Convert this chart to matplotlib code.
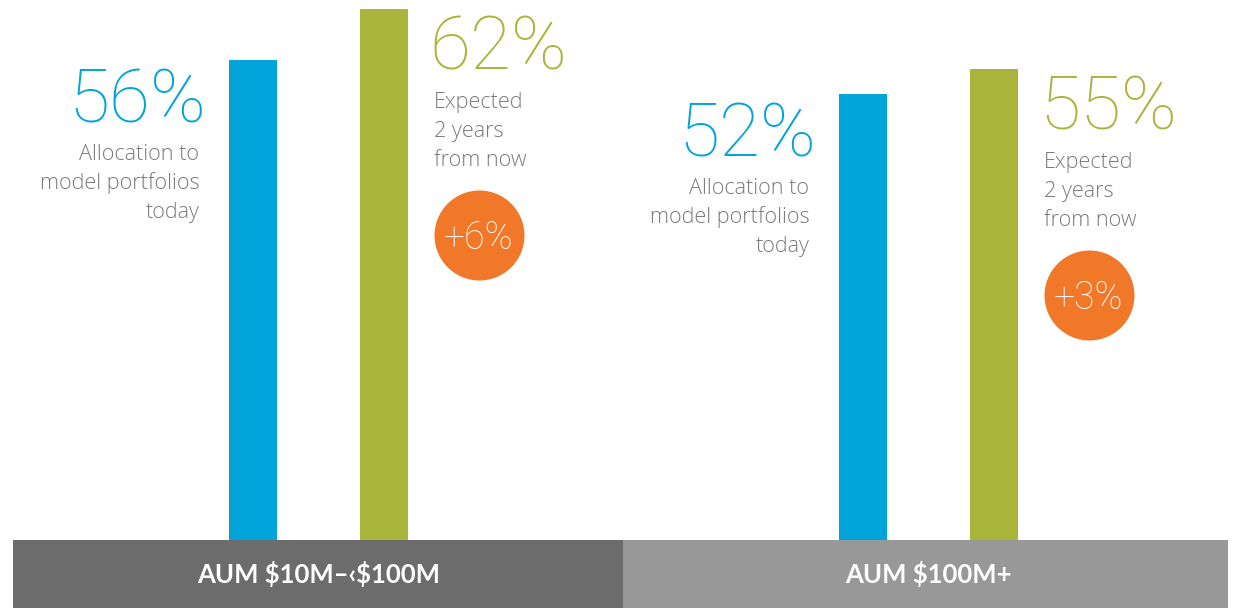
import matplotlib
matplotlib.use("Agg")
import matplotlib.pyplot as plt
from matplotlib.transforms import offset_copy

groups = ["AUM $10M–‹$100M", "AUM $100M+"]
today = [56, 52]
expected = [62, 55]
today_label = ["Allocation to", "model portfolios", "today"]
expected_label = ["Expected", "2 years", "from now"]

BLUE = "#00A4DA"
GREEN = "#A9B43A"
ORANGE = "#F07828"
DARK = "#6B6C6B"
LIGHT = "#979897"
TXT = "#7A7A7A"

W, H = 1234, 608
fig = plt.figure(figsize=(W / 100, H / 100), dpi=100)
band_h = 68
ax = fig.add_axes([0, band_h / H, 1, 1 - band_h / H])
bax = fig.add_axes([0, 0, 1, band_h / H], sharex=ax)

xlim = (-0.5221, 1.5008)
off = 0.1066
bw = 0.0787
ax.set_xlim(*xlim)
ax.set_ylim(0, 540 / 8.57)
ax.axis("off")

NUMFONT = dict(family=["Roboto", "DejaVu Sans"], weight=250)
LBLFONT = dict(family=["Open Sans", "DejaVu Sans"], weight=300)

for i, (t, e) in enumerate(zip(today, expected)):
    xb = i - off
    xg = i + off
    ax.bar(xb, t, width=bw, color=BLUE, linewidth=0)
    ax.bar(xg, e, width=bw, color=GREEN, linewidth=0)
    left_edge = xb - bw / 2
    right_edge = xg + bw / 2
    # big numbers
    ax.annotate(f"{t}%", xy=(left_edge, t), xytext=(-23, -62),
                textcoords="offset pixels", ha="right", va="baseline",
                fontsize=54, color=BLUE, **NUMFONT)
    ax.annotate(f"{e}%", xy=(right_edge, e), xytext=(22, -61),
                textcoords="offset pixels", ha="left", va="baseline",
                fontsize=54, color=GREEN, **NUMFONT)
    for k, line in enumerate(today_label):
        ax.annotate(line, xy=(left_edge, t), xytext=(-30, -100 - 29 * k),
                    textcoords="offset pixels", ha="right", va="baseline",
                    fontsize=15.6, color=TXT, **LBLFONT)
    for k, line in enumerate(expected_label):
        ax.annotate(line, xy=(right_edge, e), xytext=(26, -99 - 29 * k),
                    textcoords="offset pixels", ha="left", va="baseline",
                    fontsize=15.6, color=TXT, **LBLFONT)
    tr = offset_copy(ax.transData, fig=fig, x=71, y=-226, units="dots")
    ax.plot([right_edge], [e], "o", ms=64.8, color=ORANGE, mec="none",
            transform=tr)
    ax.text(right_edge, e, f"+{e - t}%", transform=tr, ha="center",
            va="center_baseline", fontsize=27, color="white", **NUMFONT)

bax.set_ylim(0, 1)
bax.axis("off")
band_cols = [DARK, LIGHT]
for i, g in enumerate(groups):
    lo = max(i - 0.5, xlim[0] + (13 / 610))
    hi = min(i + 0.5, xlim[1] - (6 / 610))
    bax.axvspan(lo, hi, ymin=0, ymax=1, color=band_cols[i], linewidth=0)
    bax.text(i, 0.5, g, ha="center", va="center", color="white",
             fontsize=18.5, family=["Lato", "DejaVu Sans"], weight="bold",
             parse_math=False)

fig.savefig("out.png", dpi=100)
